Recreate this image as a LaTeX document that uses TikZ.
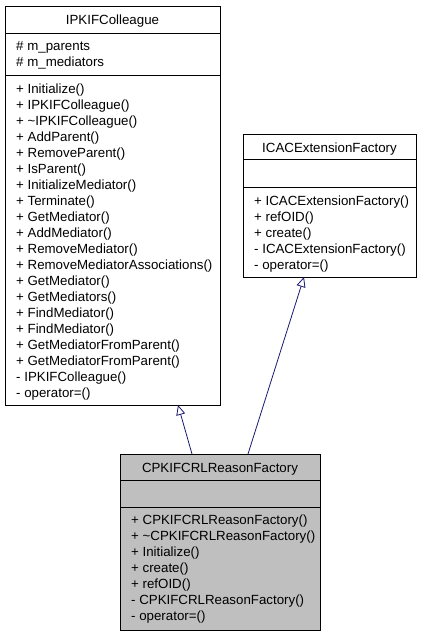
\documentclass[tikz,border=0pt]{standalone}
\usepackage{fontspec}
\setmainfont{Liberation Sans}
\usetikzlibrary{arrows.meta}

\definecolor{edgeblue}{HTML}{191970}
\definecolor{boxgray}{HTML}{BFBFBF}

\def\rowh{16}

\tikzset{
	classbox/.style={draw=black, line width=1pt, inner sep=0pt, anchor=north west},
	classname/.style={anchor=base, inner sep=0pt, font=\fontsize{13.3}{16}\selectfont},
	member/.style={anchor=base west, inner sep=0pt, font=\fontsize{13.3}{16}\selectfont},
	inherit/.style={draw=edgeblue, line width=0.8pt, -{Triangle[open, length=10pt, width=9pt]}},
}

\begin{document}
\begin{tikzpicture}[x=1pt, y=-1pt]

	\useasboundingbox (0,0) rectangle (421,635);

	%%% IPKIFColleague
	\node[classbox, minimum width=215pt, minimum height=399pt] (colleague) at (5,6) {};
	\draw[line width=1pt] (5,33) -- (220,33);
	\draw[line width=1pt] (5,75) -- (220,75);
	\node[classname] (colleague_name) at (112.5,24) {IPKIFColleague};
	\node[member] (colleague_a1) at (16,50) {\# m\_parents};
	\node[member] (colleague_a2) at (16,66) {\# m\_mediators};
	\foreach \txt [count=\i from 0] in {+ Initialize(), + IPKIFColleague(), + {\textasciitilde}IPKIFColleague(),
		+ AddParent(), + RemoveParent(), + IsParent(), + InitializeMediator(), + Terminate(),
		+ GetMediator(), + AddMediator(), + RemoveMediator(), + RemoveMediatorAssociations(),
		+ GetMediator(), + GetMediators(), + FindMediator(), + FindMediator(),
		+ GetMediatorFromParent(), + GetMediatorFromParent(), - IPKIFColleague(), - operator=()}
		\node[member] (colleague_m\i) at (16,93+\rowh*\i) {\txt};

	%%% ICACExtensionFactory
	\node[classbox, minimum width=173pt, minimum height=143pt] (extension) at (243,134) {};
	\draw[line width=1pt] (243,159) -- (416,159);
	\draw[line width=1pt] (243,187) -- (416,187);
	\node[classname] (extension_name) at (329.5,152) {ICACExtensionFactory};
	\foreach \txt [count=\i from 0] in {+ ICACExtensionFactory(), + refOID(), + create(),
		- ICACExtensionFactory(), - operator=()}
		\node[member] (extension_m\i) at (254,205+\rowh*\i) {\txt};

	%%% CPKIFCRLReasonFactory
	\node[classbox, fill=boxgray, minimum width=200pt, minimum height=176pt] (factory) at (120,454) {};
	\draw[line width=1pt] (120,480) -- (320,480);
	\draw[line width=1pt] (120,507) -- (320,507);
	\node[classname] (factory_name) at (220,472) {CPKIFCRLReasonFactory};
	\foreach \txt [count=\i from 0] in {+ CPKIFCRLReasonFactory(), + {\textasciitilde}CPKIFCRLReasonFactory(),
		+ Initialize(), + create(), + refOID(), - CPKIFCRLReasonFactory(), - operator=()}
		\node[member] (factory_m\i) at (131,524+\rowh*\i) {\txt};

	%%% Inheritance
	\coordinate (factory_top1) at (192,454);
	\coordinate (factory_top2) at (248,454);
	\coordinate (colleague_bot) at (178,405);
	\coordinate (extension_bot) at (304,277);
	\draw[inherit] (factory_top1) -- (colleague_bot);
	\draw[inherit] (factory_top2) -- (extension_bot);

\end{tikzpicture}
\end{document}
